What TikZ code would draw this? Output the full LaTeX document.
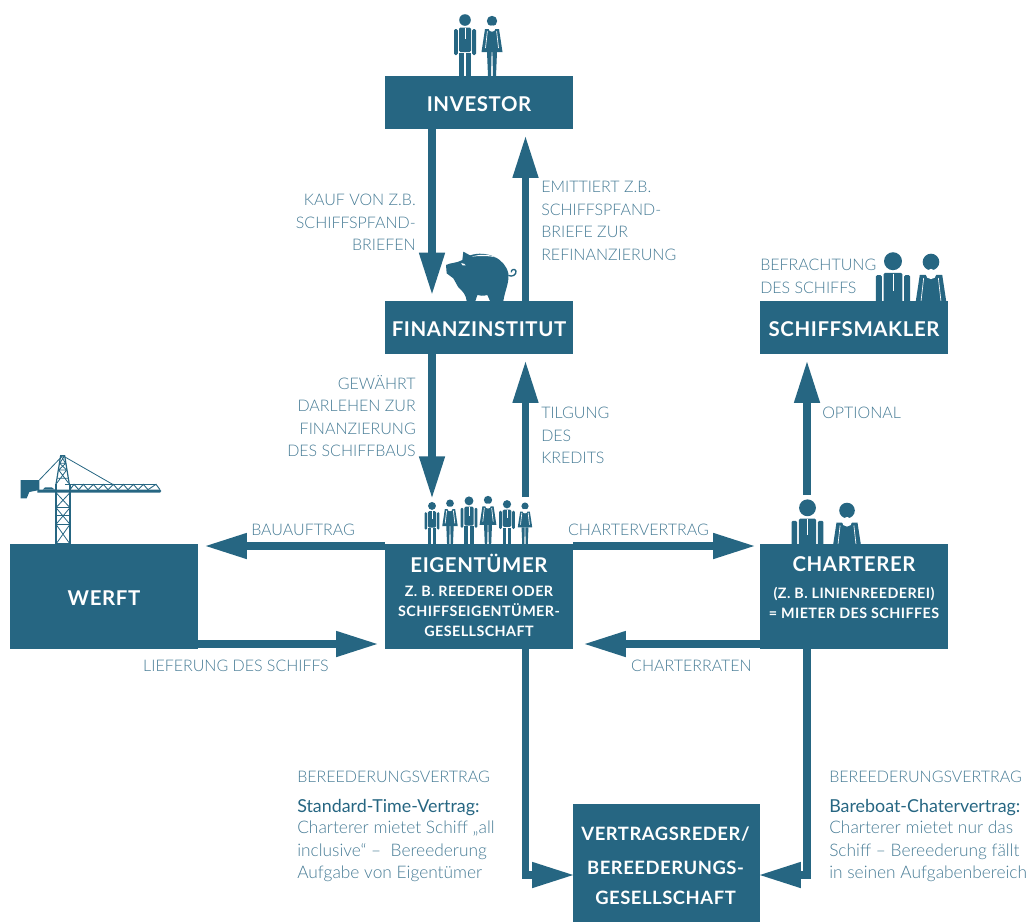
\documentclass[tikz,border=0pt]{standalone}
\usepackage{fontspec}
\usetikzlibrary{arrows.meta}
\setmainfont{Open Sans}
\newfontfamily\lt{Lato Light}
\newfontfamily\md{Lato}
\newfontfamily\bd[LetterSpace=3]{Lato Bold}
\definecolor{boxc}{HTML}{266682}
\definecolor{labc}{HTML}{467B95}
\tikzset{
 flow/.style={draw=boxc,line width=5.7pt,-{Triangle[width=18pt,length=32pt]}},
 block/.style={fill=boxc,inner sep=0pt,minimum width=141pt,text=white},
 title/.style={font=\bd\fontsize{15.3}{18}\selectfont,text=white,inner sep=0pt},
 titleb/.style={font=\bd\fontsize{13.8}{18}\selectfont,text=white,inner sep=0pt},
 sub/.style={font=\bd\fontsize{10.75}{15}\selectfont,text=white,inner sep=0pt,align=center},
 lab/.style={font=\lt\fontsize{12}{16.9}\selectfont,text=labc,inner sep=0pt},
 labl/.style={lab,align=left,anchor=north west},
 labr/.style={lab,align=right,anchor=north east},
 labt/.style={labl,font=\lt\fontsize{13}{16.9}\selectfont},
 labm/.style={labl,font=\md\fontsize{13.4}{16.9}\selectfont,text=boxc},
 manicon/.pic={
  \fill[boxc] (0,-56) circle (5.8);
  \fill[boxc,rounded corners=1pt] (-6,-48.5) rectangle (6,-24);
  \fill[boxc,rounded corners=1pt] (-11,-47) rectangle (-7.2,-21);
  \fill[boxc,rounded corners=1pt] (7.2,-47) rectangle (11,-21);
  \fill[boxc] (-6,-23) rectangle (-.8,0);
  \fill[boxc] (.8,-23) rectangle (6,0);
  \draw[white,line width=.6pt] (0,-48) -- (0,-37);
 },
 womanicon/.pic={
  \fill[boxc] (0,-55) circle (5.2);
  \fill[boxc] (-7,-47) -- (7,-47) -- (10.5,-24) -- (-10.5,-24) -- cycle;
  \fill[white] (0,-47.5) ellipse (3.4 and 3.2);
  \fill[boxc] (-5,-24) -- (-.4,-24) -- (-1,0) -- (-4,0) -- cycle;
  \fill[boxc] (.4,-24) -- (5,-24) -- (4,0) -- (1,0) -- cycle;
  \draw[white,line width=.5pt] (-4.6,-45) -- (-6.5,-28);
  \draw[white,line width=.5pt] (4.6,-45) -- (6.5,-28);
 },
}
\begin{document}
\begin{tikzpicture}[x=.75pt,y=-.75pt]
\useasboundingbox (0,0) rectangle (1033,922);
% people
\pic at (465,76) {manicon};
\pic at (492,76) {womanicon};
\pic[scale=.68] at (432,544) {manicon};
\pic[scale=.74] at (450,544) {womanicon};
\pic[scale=.77] at (469,544) {manicon};
\pic[scale=.8] at (488,544) {womanicon};
\pic[scale=.71] at (507,544) {manicon};
\pic[scale=.69] at (525,544) {womanicon};
\pic[scale=1.55] at (893,348) {manicon};
\pic[scale=1.6] at (931,350) {womanicon};
\pic[scale=1.45] at (807.5,589) {manicon};
\pic[scale=1.5] at (847,593) {womanicon};
% boxes
\node[block,minimum height=39.75pt] (inv) at (479,102.5) {};
\node[block,minimum height=39.75pt] (fin) at (479,327.5) {};
\node[block,minimum height=39.75pt] (mak) at (854,327.5) {};
\node[block,minimum height=78.75pt] (eig) at (479,596.5) {};
\node[block,minimum height=78.75pt] (wer) at (104,596.5) {};
\node[block,minimum height=78.75pt] (cha) at (854,596.5) {};
\node[block,minimum width=140.25pt,minimum height=88.5pt] (ver) at (666.5,863) {};
% helper coordinates
\coordinate (ca) at (432,0);
\coordinate (cb) at (525.5,0);
\coordinate (cc) at (807,0);
\coordinate (rt) at (0,546);
\coordinate (rb) at (0,644);
\coordinate (rv) at (0,875);
\coordinate (re) at (0,497);
\coordinate (rc) at (0,495);
% connectors
\draw[flow,shorten >=4pt] (inv.south -| ca) -- (fin.north -| ca);
\draw[flow,shorten >=4.5pt] (fin.north -| cb) -- (inv.south -| cb);
\draw[flow,shorten >=-1.5pt] (fin.south -| ca) -- (ca |- re);
\draw[flow,shorten >=4.5pt] (cb |- re) -- (fin.south -| cb);
\draw[flow,shorten >=4.5pt] (cc |- rc) -- (mak.south -| cc);
\draw[flow,shorten >=4.5pt] (eig.west |- rt) -- (wer.east |- rt);
\draw[flow,shorten >=3pt] (eig.east |- rt) -- (cha.west |- rt);
\draw[flow,shorten >=4.5pt] (wer.east |- rb) -- (eig.west |- rb);
\draw[flow,shorten >=7.5pt] (cha.west |- rb) -- (eig.east |- rb);
\draw[flow,shorten >=-1.5pt] (eig.south -| cb) -- (cb |- rv) -- (ver.west |- rv);
\draw[flow,shorten >=-1.5pt] (cha.south -| cc) -- (cc |- rv) -- (ver.east |- rv);
% titles
\node[title] (t1) at (479,104) {INVESTOR};
\node[title] (t2) at (479,329) {FINANZINSTITUT};
\node[title] (t3) at (854,329) {SCHIFFSMAKLER};
\node[title] (t4) at (479,563) {EIGENTÜMER};
\node[title] (t5) at (104,598) {WERFT};
\node[title] (t6) at (854,564) {CHARTERER};
\node[titleb] (t7) at (665.5,834) {VERTRAGSREDER/};
\node[titleb] (t8) at (665.5,868) {BEREEDERUNGS-};
\node[titleb] (t9) at (665.5,898) {GESELLSCHAFT};
\node[sub] (s1) at (479,611) {Z. B. REEDEREI ODER\\SCHIFFSEIGENTÜMER-\\GESELLSCHAFT};
\node[sub] (s2) at (854,602.5) {(Z. B. LINIENREEDEREI)\\= MIETER DES SCHIFFES};
% labels
\node[labr] (l1) at (416,194) {KAUF VON Z.B.\\SCHIFFSPFAND-\\BRIEFEN};
\node[labl] (l2) at (541,181) {EMITTIERT Z.B.\\SCHIFFSPFAND-\\BRIEFE ZUR\\REFINANZIERUNG};
\node[labl] (l3) at (760,259) {BEFRACHTUNG\\DES SCHIFFS};
\node[labr] (l4) at (416,375) {GEWÄHRT\\DARLEHEN ZUR\\FINANZIERUNG\\DES SCHIFFBAUS};
\node[labl] (l5) at (541,407) {TILGUNG\\DES\\KREDITS};
\node[labl] (l6) at (822,407) {OPTIONAL};
\node[lab] (l7) at (303,529.5) {BAUAUFTRAG};
\node[lab] (l8) at (638.5,529.5) {CHARTERVERTRAG};
\node[lab] (l9) at (236,665.5) {LIEFERUNG DES SCHIFFS};
\node[lab] (l10) at (691.5,665.5) {CHARTERRATEN};
\node[labl] (l11) at (297,771) {BEREEDERUNGSVERTRAG};
\node[labm] (l12) at (297,799) {Standard-Time-Vertrag:};
\node[labt] (l13) at (297,821) {Charterer mietet Schiff „all\\inclusive“ –~~Bereederung\\Aufgabe von Eigentümer};
\node[labl] (l14) at (829,771) {BEREEDERUNGSVERTRAG};
\node[labm] (l15) at (829,799) {Bareboat-Chatervertrag:};
\node[labt] (l16) at (829,821) {Charterer mietet nur das\\Schiff – Bereederung fällt\\in seinen Aufgabenbereich};
% piggy bank
\begin{scope}[shift={(430,240)},x=.25pt,y=-.25pt]
 \fill[boxc] (48,75) .. controls (60,68) and (80,70) .. (97,60) -- (100,35) -- (120,46)
  .. controls (170,30) and (225,55) .. (235,100)
  .. controls (238,130) and (225,150) .. (220,183) -- (180,183) -- (172,165)
  .. controls (160,168) and (150,168) .. (142,165) -- (136,183) -- (110,183)
  .. controls (108,165) and (100,155) .. (85,142) -- (70,115) -- (50,100) -- cycle;
 \fill[white] (93,70) .. controls (100,68) and (106,72) .. (107,76) .. controls (100,78) and (95,76) .. (93,70) -- cycle;
 \fill[white] (125,50) .. controls (150,42) and (175,42) .. (197,52) .. controls (175,47) and (150,47) .. (125,50) -- cycle;
 \draw[boxc,line width=1pt] (235,106) .. controls (245,112) and (260,105) .. (258,93) .. controls (255,85) and (242,88) .. (244,97);
\end{scope}
% crane
\begin{scope}[shift={(0,440)},x=.25pt,y=-.25pt]
 \fill[boxc] (62,120) -- (118,120) -- (118,150) -- (88,156) -- (80,175) -- (62,175) -- cycle;
 \fill[boxc] (112,149) -- (480,149) -- (484,153) -- (480,158) -- (112,158) -- cycle;
 \fill[boxc] (128,149) -- (135,142) -- (155,142) -- (165,149) -- cycle;
 \draw[boxc,line width=.6pt] (118,120) -- (188,47) -- (338,133);
 \draw[boxc,line width=.7pt] (195,133) -- (468,133);
 \draw[boxc,line width=.7pt] (210,149) -- (222,133) -- (236,149) -- (250,133) -- (264,149) -- (280,133) -- (294,149) -- (310,133) -- (324,149) -- (340,133) -- (354,149) -- (370,133) -- (384,149) -- (400,133) -- (414,149) -- (430,133) -- (444,149) -- (468,133) -- (480,149);
 \draw[boxc,line width=.9pt] (168,133) -- (182,47) -- (194,47) -- (208,133);
 \draw[boxc,line width=.6pt] (172,115) -- (204,115) (176,90) -- (200,90) (179,70) -- (197,70)
   (170,130) -- (200,90) (206,130) -- (176,90) (176,90) -- (197,70) (200,90) -- (179,70) (179,70) -- (194,47) (197,70) -- (182,47);
 \draw[boxc,line width=1pt] (168,133) -- (168,312) (210,133) -- (210,312);
 \foreach \ya/\yb in {158/203,203/253,253/312}{
   \draw[boxc,line width=.6pt] (168,\ya) -- (210,\yb) (210,\ya) -- (168,\yb);
   \draw[boxc,line width=.8pt] (168,\yb) -- (210,\yb);
 }
 \draw[boxc,line width=.6pt] (168,226) -- (210,226);
\end{scope}
\end{tikzpicture}
\end{document}
